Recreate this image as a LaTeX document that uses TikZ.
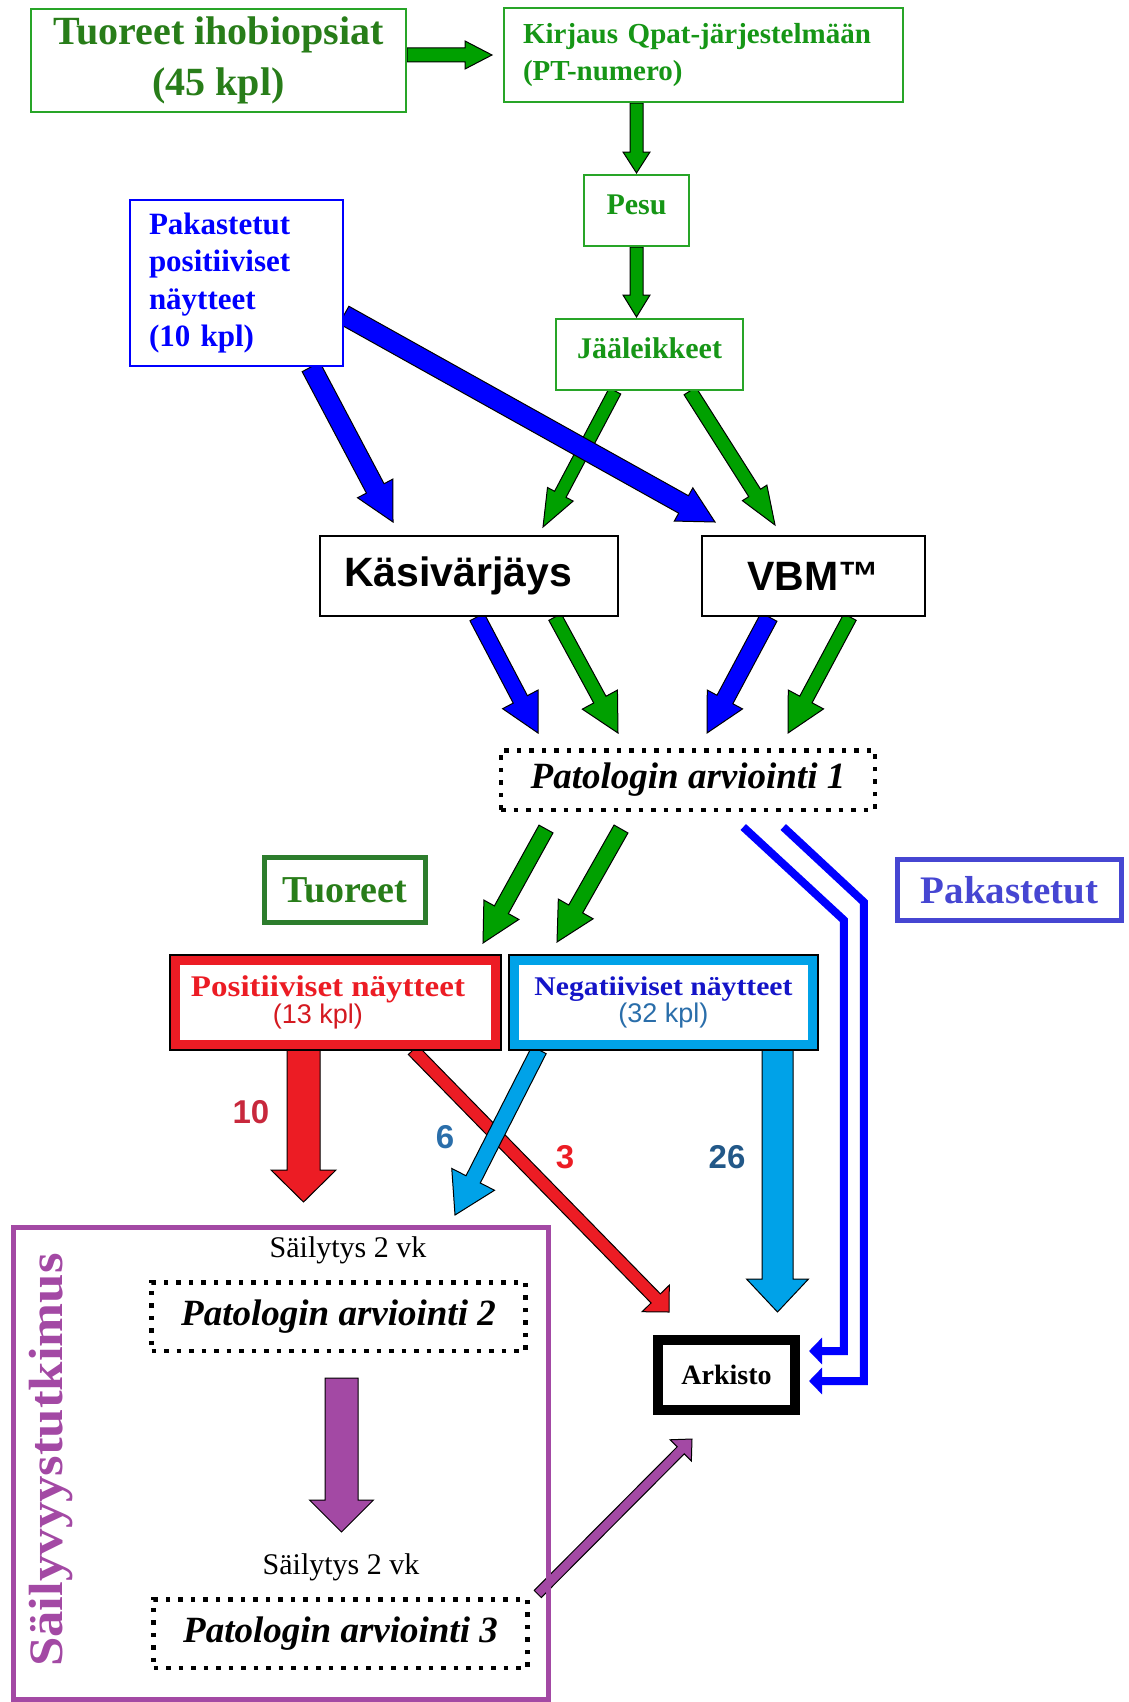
\documentclass[tikz,border=0pt]{standalone}
\usepackage{fontspec}
\setmainfont{Liberation Serif}
\setsansfont{Liberation Sans}
\newfontfamily\widefont[FakeStretch=1.1]{Liberation Serif}
\usetikzlibrary{calc,arrows.meta,positioning}

\definecolor{bioGreen}{RGB}{40,125,25}
\definecolor{boxGreen}{RGB}{40,165,40}
\definecolor{txtGreen}{RGB}{22,150,22}
\definecolor{arrGreen}{RGB}{0,160,0}
\definecolor{labGreen}{RGB}{45,125,45}
\definecolor{arrBlue}{RGB}{0,0,255}
\definecolor{labBlue}{RGB}{70,70,210}
\definecolor{posRed}{RGB}{236,28,36}
\definecolor{numRed}{RGB}{200,40,60}
\definecolor{negCyan}{RGB}{0,162,232}
\definecolor{negBlue}{RGB}{20,20,200}
\definecolor{kplBlue}{RGB}{42,110,170}
\definecolor{silPurple}{RGB}{163,73,164}

\pgfdeclarelayer{bg}
\pgfsetlayers{bg,main}

% filled block arrow: colour, tail, tip, half shaft, half head, head length
\newcommand{\fatarrow}[6]{%
  \coordinate (fa-t) at (#2);
  \coordinate (fa-p) at (#3);
  \coordinate (fa-h) at ($(fa-p)!#6pt!(fa-t)$);
  \filldraw[fat, fill=#1] ($(fa-t)!#4pt!90:(fa-p)$) -- ($(fa-h)!#4pt!90:(fa-p)$)
    -- ($(fa-h)!#5pt!90:(fa-p)$) -- (fa-p) -- ($(fa-h)!#5pt!-90:(fa-p)$)
    -- ($(fa-h)!#4pt!-90:(fa-p)$) -- ($(fa-t)!#4pt!-90:(fa-p)$) -- cycle;
}

\tikzset{
  gbox/.style={draw=boxGreen, line width=2pt, fill=white, inner sep=0pt, text=txtGreen},
  bbox/.style={draw=arrBlue, line width=2pt, fill=white, inner sep=0pt, text=arrBlue},
  kbox/.style={draw=black, line width=2pt, fill=white, inner sep=0pt, minimum height=80pt,
    font=\sffamily\bfseries\fontsize{41}{48}\selectfont},
  dotbox/.style={draw=black, line width=4.5pt, dash pattern=on 4.5pt off 8pt, fill=white,
    inner sep=0pt, minimum width=374pt, font=\bfseries\itshape\fontsize{37}{44}\selectfont},
  labbox/.style={line width=5pt, fill=white, inner sep=0pt, font=\bfseries\fontsize{38}{44}\selectfont},
  frame/.style={line width=10pt, fill=white, inner sep=0pt, align=center},
  fat/.style={draw=black, line width=1pt, line join=miter},
  pakline/.style={draw=arrBlue, line width=8pt, -{Triangle[length=13pt,width=26pt]}},
  num/.style={font=\sffamily\bfseries\fontsize{33}{36}\selectfont},
  sily/.style={font=\fontsize{30}{34}\selectfont}
}

\begin{document}
\begin{tikzpicture}[x=1pt,y=-1pt]
\useasboundingbox (0,0) rectangle (1128,1702);

% top of the chain
\node[gbox, minimum width=375pt, minimum height=103pt, align=center, text=bioGreen,
  font=\bfseries\fontsize{40}{51}\selectfont] (biops) at (218.5,60.5) {Tuoreet ihobiopsiat\\(45 kpl)};
\node[gbox, minimum width=399pt, minimum height=94pt, text width=361pt, align=left,
  font=\bfseries\fontsize{29}{37}\selectfont] (kirj) at (703.5,55) {Kirjaus Qpat-järjestelmään\\(PT-numero)};
\node[gbox, minimum width=105pt, minimum height=71pt, text depth=12pt,
  font=\bfseries\fontsize{30}{36}\selectfont] (pesu) at (636.5,210.5) {Pesu};
\node[gbox, minimum width=187pt, minimum height=71pt, text depth=12pt,
  font=\bfseries\fontsize{30}{36}\selectfont] (jaa) at (649.5,354.5) {Jääleikkeet};
\node[bbox, minimum width=213pt, minimum height=166pt, text width=175pt, align=left,
  font=\bfseries\fontsize{31}{37.5}\selectfont] (pak) at (236.5,283) {Pakastetut\\positiiviset\\näytteet\\(10 kpl)};

% staining
\node[kbox, minimum width=298pt, text width=250pt, align=left] (kasi) at (469,576) {Käsivärjäys};
\node[kbox, minimum width=223pt] (vbm) at (813.5,576) {VBM™};
\node[dotbox, minimum height=59.5pt] (pat1) at (688,780) {Patologin arviointi 1};

\node[labbox, draw=labGreen, text=bioGreen, minimum width=161pt, minimum height=65pt] (tuor) at (345,890) {Tuoreet};
\node[labbox, draw=labBlue, text=labBlue, minimum width=224pt, minimum height=61pt,
  font=\bfseries\fontsize{39}{44}\selectfont] (pakl) at (1009.5,890) {Pakastetut};

% results
\node[frame, draw=posRed, minimum width=321pt, minimum height=85pt, font=\fontsize{30}{25}\selectfont] (pos) at (335.5,1002.5)
  {\hspace*{-15pt}{\widefont\bfseries\color{posRed}Positiiviset näytteet}\\\hspace*{-35pt}{\sffamily\fontsize{27}{30}\selectfont\color{posRed!90!black}(13 kpl)}};
\node[frame, draw=negCyan, minimum width=299pt, minimum height=85pt, font=\fontsize{27}{25}\selectfont] (neg) at (663.5,1002.5)
  {{\widefont\bfseries\color{negBlue}Negatiiviset näytteet}\\{\sffamily\fontsize{27}{30}\selectfont\color{kplBlue}(32 kpl)}};
\draw[line width=1.5pt] (pos.north west) rectangle (pos.south east);
\draw[line width=1.5pt] (neg.north west) rectangle (neg.south east);

% storage study
\node[draw=silPurple, line width=5pt, minimum width=535pt, minimum height=472pt, inner sep=0pt] (sail) at (281,1463.5) {};
\node[rotate=90, text=silPurple, font=\widefont\bfseries\fontsize{48}{52}\selectfont] (sailt) at (51,1460) {Säilyvyystutkimus};
\node[sily] (sily1) at (348,1250) {Säilytys 2 vk};
\node[dotbox, minimum height=68.5pt] (pat2) at (338.5,1316.5) {Patologin arviointi 2};
\node[sily] (sily2) at (341,1567) {Säilytys 2 vk};
\node[dotbox, minimum height=68.5pt] (pat3) at (340.5,1633.5) {Patologin arviointi 3};

\node[frame, draw=black, minimum width=137pt, minimum height=70pt, font=\bfseries\fontsize{28}{32}\selectfont] (ark) at (726.5,1375) {Arkisto};

% counts
\node[num, text=numRed] (n10) at (251,1112) {10};
\node[num, text=kplBlue] (n6) at (445,1137) {6};
\node[num, text=posRed] (n3) at (565,1157) {3};
\node[num, text=kplBlue!80!black] (n26) at (727,1157) {26};

\begin{pgfonlayer}{bg}
\fatarrow{arrGreen}{biops.east |- kirj.west}{$(kirj.west)+(-11,0)$}{7}{14}{27}
\fatarrow{arrGreen}{pesu.north |- kirj.south}{$(pesu.north)+(0,-1)$}{6.5}{13.5}{21}
\fatarrow{arrGreen}{pesu.south}{$(pesu.south |- jaa.north)+(0,-1)$}{6.5}{13.5}{22}
\fatarrow{arrGreen}{$(jaa.south)+(-34.5,0)$}{$(kasi.north)+(74,-8)$}{6.5}{14.5}{37}
\fatarrow{arrGreen}{$(jaa.south)+(40.5,0)$}{$(vbm.north)+(-38.5,-10)$}{7}{14.5}{38}
\fatarrow{arrBlue}{$(pak.south)+(74.5,0)$}{$(kasi.north)+(-76,-13)$}{10}{20}{38}
\fatarrow{arrBlue}{$(pak.east)+(0,32)$}{$(vbm.north)+(-98.5,-13)$}{10}{19}{36}
\fatarrow{arrBlue}{$(kasi.south)+(8,0)$}{$(pat1.north)+(-150,-15)$}{8}{20}{38}
\fatarrow{arrGreen}{$(kasi.south)+(86,0)$}{$(pat1.north)+(-70,-15)$}{7}{20}{38}
\fatarrow{arrBlue}{$(vbm.south)+(-44.5,0)$}{$(pat1.north)+(19,-15)$}{9}{20}{38}
\fatarrow{arrGreen}{$(vbm.south)+(36.5,0)$}{$(pat1.north)+(100,-15)$}{7}{20}{38}
\fatarrow{arrGreen}{$(pat1.south)+(-142,17)$}{$(pos.north)+(147.5,-12)$}{8}{20}{38}
\fatarrow{arrGreen}{$(pat1.south)+(-67,17)$}{$(neg.north)+(-106.5,-13)$}{8}{20}{38}
\fatarrow{posRed}{$(pos.south)+(-32,0)$}{$(sail.north)+(22.5,-23)$}{16.5}{32.5}{32}
\fatarrow{posRed}{$(pos.south)+(77.5,0)$}{$(ark.north west)+(16,-23)$}{6.5}{19}{19}
\fatarrow{negCyan}{$(neg.south)+(-124.5,0)$}{$(sail.north east)+(-96,-10)$}{8}{24}{40}
\fatarrow{negCyan}{$(neg.south)+(114,0)$}{$(ark.north)+(51,-23)$}{15.5}{31}{33}
\fatarrow{silPurple}{$(pat2.south)+(3,25)$}{$(pat3.north)+(1,-65)$}{16.5}{32}{32}
\fatarrow{silPurple}{$(pat3.north east)+(8,-3)$}{$(ark.south west)+(39,24)$}{5}{15}{16}
\end{pgfonlayer}

% frozen samples go straight to the archive
\coordinate (pk-in) at ($(pat1.south east)+(-134,15)$);
\coordinate (pk-out) at ($(pat1.south east)+(-94,15)$);
\draw[pakline] (pk-in) -- ++(100.5,93) |- ($(ark.east)+(9,-24)$);
\draw[pakline] (pk-out) -- ++(80.5,75) |- ($(ark.east)+(9,6)$);
\end{tikzpicture}
\end{document}
